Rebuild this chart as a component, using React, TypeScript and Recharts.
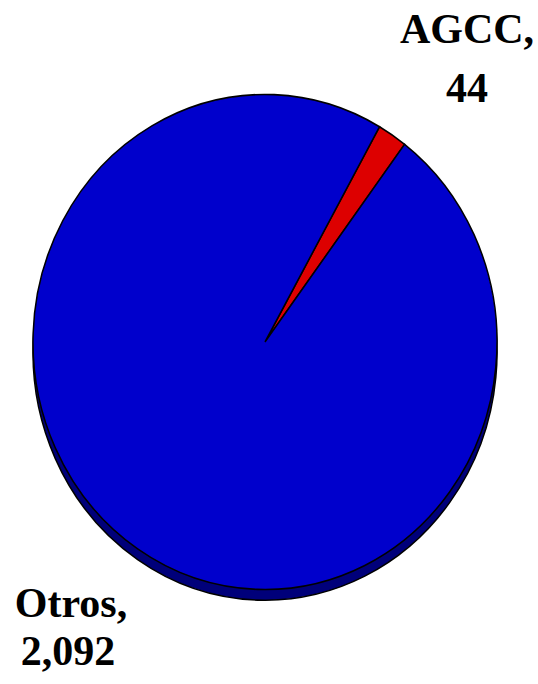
import React from "react";
import { PieChart, Pie, Cell } from "recharts";

// Values
const categories = ["AGCC", "Otros"];
const values = [44, 2092];

const FACE_COLORS = ["#DD0000", "#0000CC"];
const RIM_COLOR = "#00007A";

const W = 538;
const H = 684;
const CX = 265;
const CY = 342;
const R = 232;
const START = 53;

const data = categories.map((name, i) => ({ name, value: values[i] }));

const fmt = (v: number) => v.toLocaleString("en-US");

export default function App() {
  const labelStyle = {
    fontFamily: "'Liberation Serif', 'Times New Roman', serif",
    fontWeight: 700,
    fontSize: 42,
  };

  return (
    <div style={{ position: "absolute", left: 0, top: 0, width: W, height: H, background: "#fff" }}>
      <div style={{ transform: "scaleY(1.067)", transformOrigin: `${CX}px ${CY}px` }}>
        <PieChart width={W} height={H} margin={{ top: 0, right: 0, bottom: 0, left: 0 }}>
          {/* rim, drawn a little lower to fake the 3D depth */}
          <Pie
            data={data}
            dataKey="value"
            nameKey="name"
            cx={CX}
            cy={CY + 10}
            outerRadius={R}
            startAngle={START}
            endAngle={START + 360}
            stroke="#000"
            strokeWidth={1.5}
            isAnimationActive={false}
          >
            {data.map((_, index) => (
              <Cell key={`rim-${index}`} fill={RIM_COLOR} />
            ))}
          </Pie>
          <Pie
            data={data}
            dataKey="value"
            nameKey="name"
            cx={CX}
            cy={CY}
            outerRadius={R}
            startAngle={START}
            endAngle={START + 360}
            stroke="#000"
            strokeWidth={1.5}
            isAnimationActive={false}
          >
            {data.map((_, index) => (
              <Cell key={`cell-${index}`} fill={FACE_COLORS[index]} />
            ))}
          </Pie>
        </PieChart>
      </div>
      <svg
        width={W}
        height={H}
        style={{ position: "absolute", left: 0, top: 0, pointerEvents: "none" }}
      >
        <g style={labelStyle}>
          <text x={467} y={43} textAnchor="middle" fill="#000">
            {categories[0]},
          </text>
          <text x={467} y={102} textAnchor="middle" fill="#000">
            {fmt(values[0])}
          </text>
          <text x={71} y={617} textAnchor="middle" fill="#000">
            {categories[1]},
          </text>
          <text x={68} y={665} textAnchor="middle" fill="#000">
            {fmt(values[1])}
          </text>
        </g>
      </svg>
    </div>
  );
}
